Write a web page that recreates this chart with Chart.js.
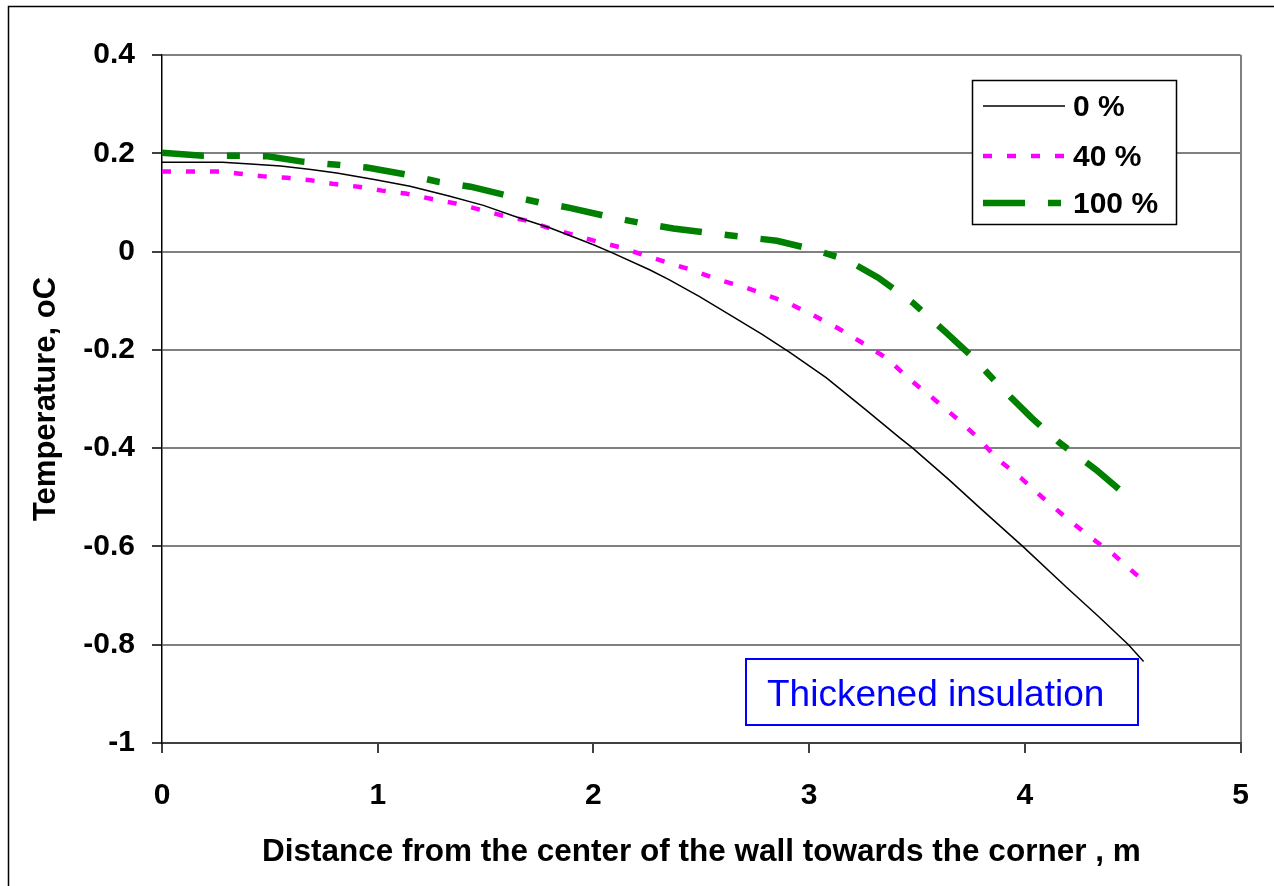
<!DOCTYPE html>
<html>
<head>
<meta charset="utf-8">
<script src="https://cdn.jsdelivr.net/npm/chart.js@4.4.0/dist/chart.umd.min.js"></script>
<style>
  html, body { margin: 0; padding: 0; background: #fff; }
  canvas { display: block; }
</style>
</head>
<body>
<canvas id="chart" width="1274" height="886"></canvas>
<script>
// --- data ---
const xTicks = [0, 1, 2, 3, 4, 5];
const yTicks = [-1, -0.8, -0.6, -0.4, -0.2, 0, 0.2, 0.4];
const seriesNames = ["0 %", "40 %", "100 %"];
const xTitle = "Distance from the center of the wall towards the corner , m";
const yTitle = "Temperature, oC";
const noteText = "Thickened insulation";

const x0 = [0, 0.28, 0.41, 0.55, 0.69, 0.81, 0.99, 1.15, 1.33, 1.49, 1.64, 1.8, 2.0, 2.08, 2.26, 2.35, 2.49, 2.64, 2.78, 2.91, 3.08, 3.26, 3.42, 3.48, 3.65, 3.8, 3.99, 4.19, 4.34, 4.48, 4.55];
const y0 = [0.182, 0.182, 0.178, 0.174, 0.167, 0.16, 0.146, 0.133, 0.113, 0.094, 0.071, 0.048, 0.014, -0.001, -0.037, -0.057, -0.091, -0.131, -0.168, -0.205, -0.257, -0.321, -0.379, -0.4, -0.465, -0.525, -0.6, -0.682, -0.742, -0.8, -0.834];

const x40 = [0, 0.27, 0.35, 0.47, 0.58, 0.69, 0.79, 0.91, 1.02, 1.13, 1.24, 1.36, 1.46, 1.58, 1.69, 1.8, 1.9, 2.02, 2.13, 2.24, 2.36, 2.46, 2.57, 2.69, 2.8, 2.91, 3.02, 3.13, 3.24, 3.36, 3.46, 3.57, 3.68, 3.78, 3.87, 3.98, 4.08, 4.19, 4.3, 4.41, 4.51, 4.53];
const y40 = [0.163, 0.163, 0.159, 0.153, 0.15, 0.145, 0.138, 0.132, 0.124, 0.118, 0.108, 0.098, 0.087, 0.073, 0.063, 0.047, 0.035, 0.02, 0.008, -0.008, -0.025, -0.038, -0.056, -0.071, -0.088, -0.106, -0.13, -0.155, -0.184, -0.217, -0.258, -0.297, -0.338, -0.378, -0.421, -0.46, -0.5, -0.541, -0.58, -0.616, -0.655, -0.662];

const x100 = [0, 0.19, 0.33, 0.49, 0.65, 0.8, 0.95, 1.13, 1.28, 1.43, 1.6, 1.75, 1.89, 2.07, 2.21, 2.37, 2.55, 2.69, 2.85, 3.02, 3.17, 3.32, 3.48, 3.63, 3.76, 3.89, 4.03, 4.16, 4.33, 4.48, 4.51];
const y100 = [0.201, 0.195, 0.195, 0.194, 0.183, 0.177, 0.171, 0.157, 0.142, 0.132, 0.114, 0.1, 0.089, 0.071, 0.059, 0.047, 0.037, 0.03, 0.022, 0.004, -0.016, -0.053, -0.104, -0.163, -0.216, -0.277, -0.338, -0.389, -0.444, -0.5, -0.505];

const FONT = "'Liberation Sans', Arial, sans-serif";
const pts = (xs, ys) => xs.map((x, i) => ({ x: x, y: ys[i] }));

const styles = [
  { color: "#000000", width: 1.5, dash: [] },
  { color: "#ff00ff", width: 4.5, dash: [9, 15] },
  { color: "#008000", width: 6.5, dash: [42, 23, 13, 23] }
];
const seriesData = [pts(x0, y0), pts(x40, y40), pts(x100, y100)];

// outer frame, legend box and the note
const extras = {
  id: "extras",
  beforeDraw(chart) {
    const ctx = chart.ctx;
    ctx.save();
    ctx.fillStyle = "#fff";
    ctx.fillRect(0, 0, chart.width, chart.height);
    ctx.restore();
  },
  afterDraw(chart) {
    const ctx = chart.ctx;
    ctx.save();
    // frame
    ctx.strokeStyle = "#000";
    ctx.lineWidth = 1.5;
    ctx.strokeRect(8.5, 6.5, 1300, 1000);

    // legend
    ctx.fillStyle = "#fff";
    ctx.fillRect(972, 80, 204, 144);
    ctx.strokeStyle = "#000";
    ctx.lineWidth = 1.5;
    ctx.strokeRect(972.5, 80.5, 204, 144);
    const rows = [106, 156, 203];
    ctx.font = "bold 30px " + FONT;
    ctx.textBaseline = "middle";
    ctx.textAlign = "left";
    seriesNames.forEach((name, i) => {
      const s = styles[i];
      ctx.beginPath();
      ctx.setLineDash(s.dash);
      ctx.lineCap = "butt";
      ctx.lineWidth = s.width;
      ctx.strokeStyle = s.color;
      ctx.moveTo(983, rows[i]);
      ctx.lineTo(1065, rows[i]);
      ctx.stroke();
      ctx.setLineDash([]);
      ctx.fillStyle = "#000";
      ctx.fillText(name, 1073, rows[i] + 2);
    });

    // note
    ctx.fillStyle = "#fff";
    ctx.fillRect(746, 659, 392, 66);
    ctx.strokeStyle = "#0000ff";
    ctx.lineWidth = 2;
    ctx.strokeRect(746, 659, 392, 66);
    ctx.fillStyle = "#0000ff";
    ctx.font = "37px " + FONT;
    ctx.textBaseline = "alphabetic";
    ctx.fillText(noteText, 767, 706);
    ctx.restore();
  }
};

new Chart(document.getElementById("chart"), {
  type: "line",
  data: {
    datasets: seriesNames.map((name, i) => ({
      label: name,
      data: seriesData[i],
      borderColor: styles[i].color,
      borderWidth: styles[i].width,
      borderDash: styles[i].dash,
      borderCapStyle: "butt",
      pointRadius: 0,
      tension: 0,
      fill: false
    }))
  },
  options: {
    responsive: false,
    animation: false,
    devicePixelRatio: 1,
    layout: { padding: { top: 55, right: 32, left: 0, bottom: 0 } },
    plugins: { legend: { display: false }, tooltip: { enabled: false } },
    scales: {
      x: {
        type: "linear",
        min: 0,
        max: 5,
        afterBuildTicks: (s) => { s.ticks = xTicks.map(v => ({ value: v })); },
        afterFit: (s) => { s.height = 143; },
        ticks: {
          color: "#000",
          font: { family: FONT, size: 30, weight: "bold" },
          padding: 25,
          maxRotation: 0,
          callback: (v) => String(v)
        },
        grid: {
          color: (c) => (c.tick && c.tick.value === 5 ? "#808080" : "rgba(0,0,0,0)"),
          lineWidth: 2,
          tickColor: "#000",
          tickLength: 10,
          tickWidth: 1.5
        },
        border: { color: "#404040", width: 2 },
        title: {
          display: true,
          text: xTitle,
          color: "#000",
          font: { family: FONT, size: 31.5, weight: "bold" },
          padding: { top: 0, bottom: 15 }
        }
      },
      y: {
        type: "linear",
        min: -1,
        max: 0.4,
        afterBuildTicks: (s) => { s.ticks = yTicks.map(v => ({ value: v })); },
        afterFit: (s) => { s.width = 162; },
        ticks: {
          color: "#000",
          font: { family: FONT, size: 30, weight: "bold" },
          padding: 17,
          callback: (v) => String(v)
        },
        grid: {
          color: "#808080",
          lineWidth: 2,
          tickColor: "#000",
          tickLength: 10,
          tickWidth: 1.5
        },
        border: { color: "#000", width: 1.5 },
        title: {
          display: true,
          text: yTitle,
          color: "#000",
          font: { family: FONT, size: 31, weight: "bold" },
          padding: { top: 28, bottom: 0 }
        }
      }
    }
  },
  plugins: [extras]
});
</script>
</body>
</html>
